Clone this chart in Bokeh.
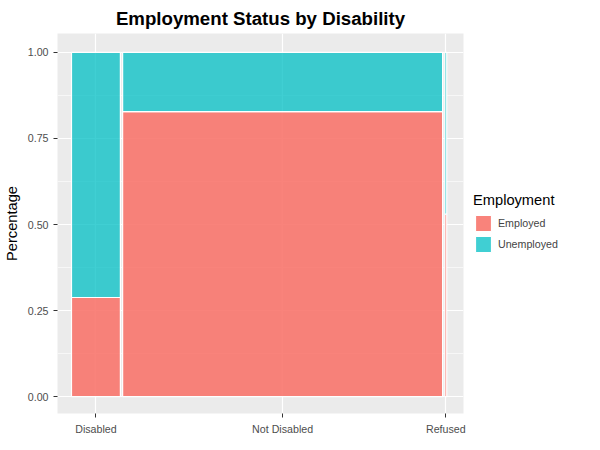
from bokeh.plotting import figure
from bokeh.models import FixedTicker, Legend, LegendItem, Range1d
from bokeh.embed import file_html
from bokeh.resources import INLINE

categories = ["Disabled", "Not Disabled", "Refused"]
widths = [0.130, 0.851, 0.005]
employed = [0.288, 0.828, 0.53]
gap = 0.006
colors = {"Employed": "#F8766D", "Unemployed": "#00BFC4"}

lefts, rights, centers = [], [], []
x = 0.0
for w in widths:
    lefts.append(x); rights.append(x + w); centers.append(round(x + w / 2, 4))
    x += w + gap

p = figure(frame_width=406, frame_height=380, output_backend="svg", toolbar_location=None,
           x_range=Range1d(-14/376, 392/376), y_range=Range1d(-0.049, 1.055),
           min_border_left=54, min_border_right=8, min_border_top=22, min_border_bottom=32)
p.background_fill_color = "#EBEBEB"
p.border_fill_color = "white"
p.outline_line_color = None

r1 = p.quad(left=lefts, right=rights, bottom=[0]*3, top=employed,
            fill_color=colors["Employed"], fill_alpha=0.9, line_color="white", line_width=1.2)
r2 = p.quad(left=lefts, right=rights, bottom=employed, top=[1]*3,
            fill_color=colors["Unemployed"], fill_alpha=0.75, line_color="white", line_width=1.2)

p.title.text = "Employment Status by Disability"
p.title.align = "center"
p.title.text_font = "Liberation Sans"
p.title.text_font_size = "14pt"
p.title.text_font_style = "bold"
p.title.text_color = "black"

p.xaxis.ticker = FixedTicker(ticks=centers)
p.xaxis.major_label_overrides = {c: n for c, n in zip(centers, categories)}
p.yaxis.ticker = FixedTicker(ticks=[0, 0.25, 0.5, 0.75, 1.0], minor_ticks=[0.125, 0.375, 0.625, 0.875])
p.yaxis.major_label_overrides = {0: "0.00", 0.25: "0.25", 0.5: "0.50", 0.75: "0.75", 1: "1.00"}
p.yaxis.axis_label = "Percentage"
p.yaxis.axis_label_text_font_style = "normal"
p.yaxis.axis_label_text_font_size = "11pt"
p.yaxis.axis_label_text_font = "Liberation Sans"
p.yaxis.axis_label_text_color = "black"
for ax in (p.xaxis, p.yaxis):
    ax.axis_line_color = None
    ax.major_tick_line_color = "#333333"
    ax.major_tick_in = 0
    ax.major_tick_out = 4
    ax.minor_tick_line_color = None
    ax.major_label_text_font = "Liberation Sans"
    ax.major_label_text_font_size = "8pt"
    ax.major_label_text_color = "#4D4D4D"
p.grid.grid_line_color = "white"
p.grid.grid_line_width = 1.2
p.ygrid.minor_grid_line_color = "white"
p.ygrid.minor_grid_line_width = 0.6

legend = Legend(items=[LegendItem(label="Employed", renderers=[r1]),
                       LegendItem(label="Unemployed", renderers=[r2])],
                title="Employment", location="center_left")
legend.title_text_font = "Liberation Sans"
legend.title_text_font_size = "11pt"
legend.title_text_font_style = "normal"
legend.title_text_color = "black"
legend.label_text_font = "Liberation Sans"
legend.label_text_font_size = "8pt"
legend.glyph_width = 20
legend.glyph_height = 20
legend.spacing = 1
legend.border_line_color = None
legend.background_fill_alpha = 0
p.add_layout(legend, "right")

open("out.html", "w").write(file_html(p, INLINE))
